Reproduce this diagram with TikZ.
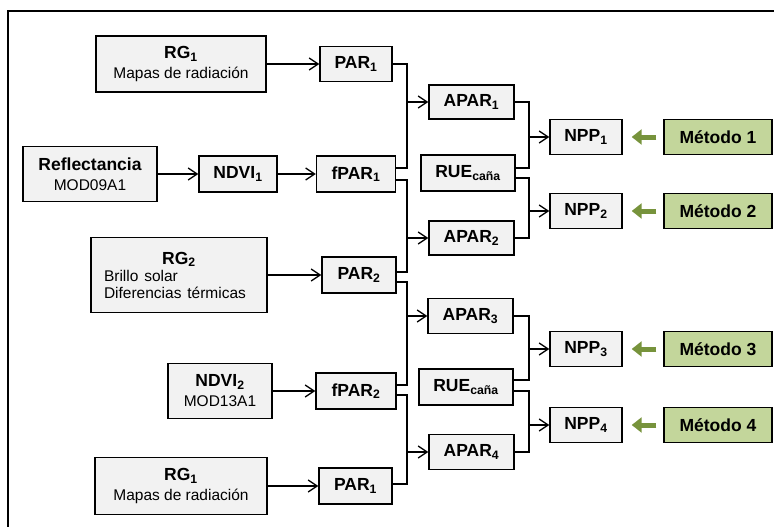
\documentclass[tikz,border=0pt]{standalone}
\usepackage{fontspec}
\setmainfont{Liberation Sans}
\usetikzlibrary{arrows.meta}
\definecolor{boxgray}{HTML}{F2F2F2}
\definecolor{metgreen}{HTML}{C3D69B}
\definecolor{arrgreen}{HTML}{77933C}
\newcommand{\desc}{\mdseries\fontsize{15.5}{19}\selectfont}

\begin{document}
\begin{tikzpicture}[x=1pt,y=-1pt,
  box/.style={draw,line width=1.4pt,fill=boxgray,inner sep=0pt,align=center,font=\bfseries\fontsize{17.5}{20}\selectfont},
  method/.style={box,fill=metgreen,minimum width=108pt,minimum height=35pt},
  link/.style={line width=1.3pt},
  conn/.style={link,-{Straight Barb[length=9pt,width=12pt]}},
  garrow/.style={arrgreen,line width=5pt,-{Triangle[length=10pt,width=15pt]}}]
\useasboundingbox (0,0) rectangle (774,527);
\draw[line width=1.2pt] (8,527) -- (8,11) -- (774,11);
% inputs
\node[box,minimum width=170pt,minimum height=56pt] (rg1a) at (181,64) {RG\textsubscript{1}\\{\desc Mapas de radiación}};
\node[box,minimum width=72pt,minimum height=35pt] (par1a) at (356,64) {PAR\textsubscript{1}};
\node[box,minimum width=134pt,minimum height=55pt] (refl) at (90,174) {Reflectancia\\{\desc MOD09A1}};
\node[box,minimum width=78pt,minimum height=36pt] (ndvi1) at (238,174) {NDVI\textsubscript{1}};
\node[box,minimum width=79pt,minimum height=36pt] (fpar1) at (356,174) {fPAR\textsubscript{1}};
\node[box,minimum width=176pt,minimum height=75pt,text width=150pt,align=left] (rg2) at (179,275) {\hfil RG\textsubscript{2}\hfil\\[-3pt]{\desc Brillo solar}\\[-3pt]{\desc Diferencias térmicas}};
\node[box,minimum width=74pt,minimum height=36pt] (par2) at (359,275) {PAR\textsubscript{2}};
\node[box,minimum width=104pt,minimum height=55pt] (ndvi2) at (220,391) {NDVI\textsubscript{2}\\{\desc MOD13A1}};
\node[box,minimum width=80pt,minimum height=36pt] (fpar2) at (356,391) {fPAR\textsubscript{2}};
\node[box,minimum width=172pt,minimum height=57pt] (rg1b) at (181,486) {RG\textsubscript{1}\\{\desc Mapas de radiación}};
\node[box,minimum width=73pt,minimum height=36pt] (par1b) at (355.5,486) {PAR\textsubscript{1}};
\draw[conn] (rg1a) -- (par1a);
\draw[conn] (refl) -- (ndvi1);
\draw[conn] (ndvi1) -- (fpar1);
\draw[conn] (rg2) -- (par2);
\draw[conn] (ndvi2) -- (fpar2);
\draw[conn] (rg1b) -- (par1b);
% APAR and RUE
\node[box,minimum width=85pt,minimum height=34pt] (apar1) at (471.5,102) {APAR\textsubscript{1}};
\node[box,minimum width=94pt,minimum height=36pt] (rue1) at (468,173) {RUE\textsubscript{caña}};
\node[box,minimum width=85pt,minimum height=34pt] (apar2) at (471.5,238) {APAR\textsubscript{2}};
\node[box,minimum width=85pt,minimum height=35pt] (apar3) at (470.5,316) {APAR\textsubscript{3}};
\node[box,minimum width=94pt,minimum height=36pt] (rue2) at (466,387) {RUE\textsubscript{caña}};
\node[box,minimum width=85pt,minimum height=35pt] (apar4) at (471.5,452) {APAR\textsubscript{4}};
\coordinate (j1) at (407,102);
\coordinate (j2) at (407,238);
\coordinate (j3) at (407,316);
\coordinate (j4) at (407,452);
\draw[link] (par1a.east) -| (j1) |- ([yshift=6pt]fpar1.east);
\draw[link] ([yshift=-6pt]fpar1.east) -| (j2) |- ([yshift=3pt]par2.east);
\draw[link] ([yshift=-7pt]par2.east) -| (j3) |- ([yshift=6pt]fpar2.east);
\draw[link] ([yshift=-4pt]fpar2.east) -| (j4) |- ([yshift=2pt]par1b.east);
\foreach \i in {1,...,4} \draw[conn] (j\i) -- (apar\i);
% NPP and methods
\coordinate (k1) at (529,137);
\coordinate (k2) at (529,211);
\coordinate (k3) at (529,349);
\coordinate (k4) at (529,425);
\draw[link] (apar1.east) -| (k1) |- ([yshift=5pt]rue1.east);
\draw[link] ([yshift=-5pt]rue1.east) -| (k2) |- (apar2.east);
\draw[link] (apar3.east) -| (k3) |- ([yshift=7pt]rue2.east);
\draw[link] ([yshift=-4pt]rue2.east) -| (k4) |- (apar4.east);
\foreach \i/\y in {1/137,2/211,3/349,4/425} {
  \node[box,minimum width=72pt,minimum height=35pt] (npp\i) at (586,\y) {NPP\textsubscript{\i}};
  \node[method] (met\i) at (718,\y) {Método \i};
  \draw[conn] (k\i) -- (npp\i);
  \draw[garrow] ([xshift=-7pt]met\i.west) -- ([xshift=9pt]npp\i.east);
}
\end{tikzpicture}
\end{document}
